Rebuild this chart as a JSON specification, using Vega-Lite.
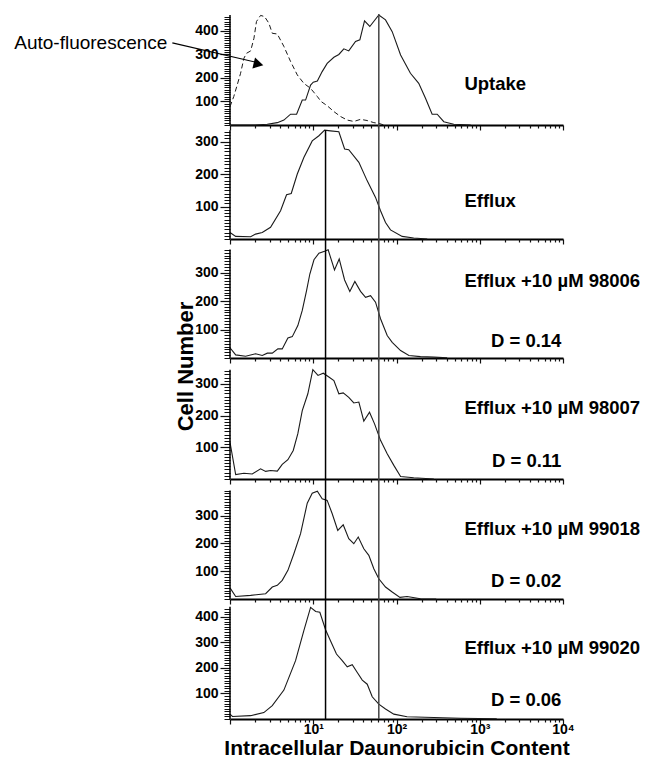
{
  "$schema": "https://vega.github.io/schema/vega-lite/v6.json",
  "padding": {"left": 14, "top": 12, "right": 2, "bottom": 2},
  "autosize": {"type": "pad"},
  "spacing": 0,
  "bounds": "flush",
  "config": {
    "view": {"stroke": null},
    "font": "Liberation Sans",
    "axis": {"labelFont": "Liberation Sans", "titleFont": "Liberation Sans", "labelColor": "#000", "titleColor": "#000", "grid": false, "tickColor": "#111", "domainColor": "#000", "ticks": true, "tickOpacity": 1},
    "text": {"font": "Liberation Sans"}
  },
  "datasets": {
    "p1_auto": [
      {"x": 1.0, "n": 78}, {"x": 1.11, "n": 121}, {"x": 1.22, "n": 170}, {"x": 1.34, "n": 220}, {"x": 1.47, "n": 284},
      {"x": 1.58, "n": 305}, {"x": 1.77, "n": 315}, {"x": 1.94, "n": 369}, {"x": 2.08, "n": 440}, {"x": 2.33, "n": 466},
      {"x": 2.6, "n": 461}, {"x": 2.93, "n": 433}, {"x": 3.22, "n": 390}, {"x": 3.7, "n": 387}, {"x": 4.44, "n": 334},
      {"x": 5.34, "n": 270}, {"x": 6.43, "n": 213}, {"x": 7.71, "n": 177}, {"x": 9.28, "n": 156}, {"x": 11.2, "n": 121},
      {"x": 12.4, "n": 100}, {"x": 14.7, "n": 82}, {"x": 17.7, "n": 57}, {"x": 21.3, "n": 36}, {"x": 25.6, "n": 21},
      {"x": 30.7, "n": 15}, {"x": 37, "n": 24}, {"x": 44.5, "n": 19}, {"x": 53.4, "n": 10}, {"x": 61.3, "n": 7}, {"x": 70.4, "n": 0}
    ],
    "p1_uptake": [
      {"x": 1, "n": 0}, {"x": 2.0, "n": 0}, {"x": 2.8, "n": 3}, {"x": 3.7, "n": 10}, {"x": 4.44, "n": 21},
      {"x": 5.34, "n": 46}, {"x": 6.31, "n": 46}, {"x": 7.38, "n": 106}, {"x": 8.09, "n": 106}, {"x": 9.29, "n": 170},
      {"x": 10.0, "n": 182}, {"x": 11.2, "n": 187}, {"x": 12.8, "n": 227}, {"x": 14.7, "n": 262}, {"x": 17.7, "n": 288},
      {"x": 20.3, "n": 300}, {"x": 23.3, "n": 324}, {"x": 26.7, "n": 315}, {"x": 32.2, "n": 355}, {"x": 36.3, "n": 362},
      {"x": 41.3, "n": 443}, {"x": 47.8, "n": 419}, {"x": 61.3, "n": 468}, {"x": 73.8, "n": 447}, {"x": 88.8, "n": 397},
      {"x": 112, "n": 298}, {"x": 147, "n": 220}, {"x": 185, "n": 177}, {"x": 223, "n": 114}, {"x": 268, "n": 46},
      {"x": 308, "n": 46}, {"x": 370, "n": 14}, {"x": 488, "n": 3}, {"x": 780, "n": 0}
    ],
    "p2": [
      {"x": 1.0, "n": 20}, {"x": 1.17, "n": 8}, {"x": 1.77, "n": 7}, {"x": 2.03, "n": 15}, {"x": 2.44, "n": 20},
      {"x": 3.07, "n": 36}, {"x": 4.05, "n": 87}, {"x": 4.78, "n": 136}, {"x": 5.44, "n": 140}, {"x": 6.43, "n": 200},
      {"x": 7.71, "n": 251}, {"x": 9.72, "n": 302}, {"x": 11.7, "n": 318}, {"x": 13.7, "n": 335}, {"x": 16.1, "n": 333},
      {"x": 20.3, "n": 330}, {"x": 23.8, "n": 277}, {"x": 26.7, "n": 275}, {"x": 35.3, "n": 236}, {"x": 44.5, "n": 179},
      {"x": 56, "n": 128}, {"x": 64.3, "n": 87}, {"x": 73.8, "n": 51}, {"x": 84.7, "n": 28}, {"x": 117, "n": 8},
      {"x": 161, "n": 3}, {"x": 234, "n": 0}
    ],
    "p3": [
      {"x": 1.0, "n": 36}, {"x": 1.17, "n": 11}, {"x": 1.54, "n": 6}, {"x": 2.03, "n": 15}, {"x": 2.44, "n": 9},
      {"x": 2.81, "n": 17}, {"x": 3.22, "n": 17}, {"x": 3.76, "n": 32}, {"x": 4.24, "n": 32}, {"x": 4.96, "n": 70},
      {"x": 5.6, "n": 75}, {"x": 6.53, "n": 114}, {"x": 7.38, "n": 167}, {"x": 8.31, "n": 237}, {"x": 9.1, "n": 295},
      {"x": 10.2, "n": 345}, {"x": 11.7, "n": 368}, {"x": 13.7, "n": 375}, {"x": 15.1, "n": 380}, {"x": 18.0, "n": 309},
      {"x": 20.5, "n": 348}, {"x": 23.8, "n": 274}, {"x": 27.5, "n": 234}, {"x": 31.6, "n": 269}, {"x": 37.0, "n": 234},
      {"x": 42.5, "n": 213}, {"x": 48.8, "n": 219}, {"x": 56, "n": 196}, {"x": 64.3, "n": 138}, {"x": 77.3, "n": 79},
      {"x": 88.8, "n": 55}, {"x": 112, "n": 26}, {"x": 141, "n": 9}, {"x": 194, "n": 5}, {"x": 281, "n": 3}, {"x": 406, "n": 1}
    ],
    "p4": [
      {"x": 1.0, "n": 116}, {"x": 1.17, "n": 14}, {"x": 1.47, "n": 18}, {"x": 1.85, "n": 16}, {"x": 2.33, "n": 32},
      {"x": 2.68, "n": 24}, {"x": 3.07, "n": 27}, {"x": 3.7, "n": 25}, {"x": 4.24, "n": 46}, {"x": 4.96, "n": 61},
      {"x": 5.75, "n": 90}, {"x": 6.53, "n": 143}, {"x": 7.38, "n": 216}, {"x": 8.61, "n": 269}, {"x": 9.89, "n": 345},
      {"x": 11.4, "n": 327}, {"x": 13.2, "n": 334}, {"x": 15.4, "n": 322}, {"x": 17.7, "n": 311}, {"x": 20.3, "n": 269},
      {"x": 22.9, "n": 272}, {"x": 26.7, "n": 258}, {"x": 30.7, "n": 240}, {"x": 35.3, "n": 243}, {"x": 40.5, "n": 183},
      {"x": 47.4, "n": 211}, {"x": 54.5, "n": 174}, {"x": 64.3, "n": 122}, {"x": 77.3, "n": 80}, {"x": 92.9, "n": 43},
      {"x": 112, "n": 8}, {"x": 161, "n": 4}, {"x": 281, "n": 0}
    ],
    "p5": [
      {"x": 1.0, "n": 40}, {"x": 1.17, "n": 9}, {"x": 1.77, "n": 13}, {"x": 2.68, "n": 19}, {"x": 3.22, "n": 43},
      {"x": 3.7, "n": 49}, {"x": 4.24, "n": 67}, {"x": 4.96, "n": 103}, {"x": 5.85, "n": 163}, {"x": 7.04, "n": 235},
      {"x": 8.47, "n": 345}, {"x": 9.72, "n": 381}, {"x": 11.2, "n": 388}, {"x": 12.8, "n": 361}, {"x": 14.7, "n": 355},
      {"x": 16.9, "n": 307}, {"x": 19.7, "n": 247}, {"x": 22.9, "n": 267}, {"x": 26.7, "n": 217}, {"x": 30.7, "n": 199},
      {"x": 34.7, "n": 223}, {"x": 40.5, "n": 181}, {"x": 46.5, "n": 157}, {"x": 53.4, "n": 109}, {"x": 61.3, "n": 73},
      {"x": 73.8, "n": 43}, {"x": 88.8, "n": 25}, {"x": 110, "n": 6}, {"x": 134, "n": 9}, {"x": 194, "n": 1}, {"x": 300, "n": 0}
    ],
    "p6": [
      {"x": 1.0, "n": 19}, {"x": 1.07, "n": 10}, {"x": 1.77, "n": 13}, {"x": 2.55, "n": 25}, {"x": 3.22, "n": 52},
      {"x": 4.44, "n": 113}, {"x": 6.13, "n": 228}, {"x": 7.71, "n": 345}, {"x": 9.29, "n": 436}, {"x": 10.7, "n": 420},
      {"x": 12.0, "n": 417}, {"x": 14.1, "n": 348}, {"x": 16.1, "n": 306}, {"x": 19.0, "n": 254}, {"x": 22.3, "n": 228},
      {"x": 25.6, "n": 204}, {"x": 29.4, "n": 212}, {"x": 33.8, "n": 182}, {"x": 38.8, "n": 152}, {"x": 44.5, "n": 136},
      {"x": 51.1, "n": 87}, {"x": 61.3, "n": 58}, {"x": 73.8, "n": 39}, {"x": 92.9, "n": 19}, {"x": 134, "n": 9},
      {"x": 281, "n": 6}, {"x": 587, "n": 3}, {"x": 1600, "n": 1}
    ],
    "one": [{"k": 1}]
  },
  "vconcat": [
    {
      "width": 333, "height": 111,
      "resolve": {"axis": {"x": "independent", "y": "independent"}},
      "layer": [
        {
          "data": {"name": "p1_uptake"},
          "mark": {"type": "line", "color": "#1a1a1a", "strokeWidth": 1.1},
          "encoding": {
            "x": {"field": "x", "type": "quantitative", "scale": {"type": "log", "domain": [1, 10000], "nice": false},
              "axis": {"orient": "bottom", "values": [1, 10, 100, 1000, 10000], "labels": false, "title": null, "domainWidth": 1.8, "tickWidth": 1.2, "tickSize": 5, "tickColor": "#111"}},
            "y": {"field": "n", "type": "quantitative", "scale": {"domain": [0, 472], "nice": false},
              "axis": {"orient": "left", "values": [100, 200, 300, 400], "domain": false, "title": null, "labelOverlap": false, "labelFontSize": 14, "labelFontWeight": "bold", "labelPadding": 2, "tickWidth": 1.2, "tickSize": 10, "tickColor": "#111"}}
          }
        },
        {
          "data": {"name": "one"},
          "mark": {"type": "rule", "color": "#000", "strokeWidth": 1.5},
          "encoding": {
            "x": {"datum": 1, "type": "quantitative",
              "axis": {"orient": "bottom", "values": [2,3,4,5,6,7,8,9,20,30,40,50,60,70,80,90,200,300,400,500,600,700,800,900,2000,3000,4000,5000,6000,7000,8000,9000], "labels": false, "domain": false, "title": null, "tickSize": 3, "tickWidth": 1.2, "tickColor": "#111"}},
            "y": {"datum": 0, "type": "quantitative",
              "axis": {"orient": "left", "values": [0,10,20,30,40,50,60,70,80,90,110,120,130,140,150,160,170,180,190,210,220,230,240,250,260,270,280,290,310,320,330,340,350,360,370,380,390,410,420,430,440,450,460], "labels": false, "domain": false, "title": null, "tickSize": 6, "tickWidth": 1, "tickColor": "#111"}},
            "y2": {"datum": 468}}
        },
        {
          "data": {"name": "p1_auto"},
          "mark": {"type": "line", "color": "#1a1a1a", "strokeWidth": 1, "strokeDash": [5, 3]},
          "encoding": {"x": {"field": "x", "type": "quantitative", "axis": null}, "y": {"field": "n", "type": "quantitative", "axis": null}}
        },
        {
          "data": {"name": "one"},
          "mark": {"type": "rule", "color": "#444", "strokeWidth": 1.5},
          "encoding": {"x": {"datum": 61.3, "type": "quantitative", "axis": null}}
        },
        {
          "data": {"name": "one"},
          "mark": {"type": "rule", "color": "#000", "strokeWidth": 1.2},
          "encoding": {"x": {"datum": 0.203, "type": "quantitative", "axis": null}, "y": {"datum": 349, "type": "quantitative", "axis": null}, "x2": {"datum": 2.1}, "y2": {"datum": 266}}
        },
        {
          "data": {"name": "one"},
          "mark": {"type": "point", "shape": "triangle-right", "filled": true, "color": "#000", "size": 130, "angle": 13.6, "opacity": 1},
          "encoding": {"x": {"datum": 2.2, "type": "quantitative", "axis": null}, "y": {"datum": 259, "type": "quantitative", "axis": null}}
        },
        {
          "data": {"values": [{"label": "Auto-fluorescence"}]},
          "mark": {"type": "text", "align": "right", "baseline": "alphabetic", "fontSize": 19, "color": "#000"},
          "encoding": {"x": {"datum": 0.177, "type": "quantitative", "axis": null}, "y": {"datum": 325, "type": "quantitative", "axis": null}, "text": {"field": "label"}}
        },
        {
          "data": {"values": [{"label": "Uptake"}]},
          "mark": {"type": "text", "align": "left", "baseline": "alphabetic", "fontSize": 18.5, "fontWeight": "bold", "color": "#000"},
          "encoding": {"x": {"datum": 655, "type": "quantitative", "axis": null}, "y": {"datum": 150, "type": "quantitative", "axis": null}, "text": {"field": "label"}}
        }
      ]
    },
    {
      "width": 333, "height": 114,
      "resolve": {"axis": {"x": "independent", "y": "independent"}},
      "layer": [
        {
          "data": {"name": "p2"},
          "mark": {"type": "line", "color": "#1a1a1a", "strokeWidth": 1.1},
          "encoding": {
            "x": {"field": "x", "type": "quantitative", "scale": {"type": "log", "domain": [1, 10000], "nice": false},
              "axis": {"orient": "bottom", "values": [1, 10, 100, 1000, 10000], "labels": false, "title": null, "domainWidth": 1.8, "tickWidth": 1.2, "tickSize": 5, "tickColor": "#111"}},
            "y": {"field": "n", "type": "quantitative", "scale": {"domain": [0, 351], "nice": false},
              "axis": {"orient": "left", "values": [100, 200, 300], "domain": false, "title": null, "labelOverlap": false, "labelFontSize": 14, "labelFontWeight": "bold", "labelPadding": 2, "tickWidth": 1.2, "tickSize": 10, "tickColor": "#111"}}
          }
        },
        {
          "data": {"name": "one"},
          "mark": {"type": "rule", "color": "#000", "strokeWidth": 1.5},
          "encoding": {
            "x": {"datum": 1, "type": "quantitative",
              "axis": {"orient": "bottom", "values": [2,3,4,5,6,7,8,9,20,30,40,50,60,70,80,90,200,300,400,500,600,700,800,900,2000,3000,4000,5000,6000,7000,8000,9000], "labels": false, "domain": false, "title": null, "tickSize": 3, "tickWidth": 1.2, "tickColor": "#111"}},
            "y": {"datum": 0, "type": "quantitative",
              "axis": {"orient": "left", "values": [0,10,20,30,40,50,60,70,80,90,110,120,130,140,150,160,170,180,190,210,220,230,240,250,260,270,280,290,310,320,330], "labels": false, "domain": false, "title": null, "tickSize": 6, "tickWidth": 1, "tickColor": "#111"}},
            "y2": {"datum": 335}}
        },
        {
          "data": {"name": "one"},
          "mark": {"type": "rule", "color": "#000", "strokeWidth": 1.5},
          "encoding": {"x": {"datum": 14.05, "type": "quantitative", "axis": null}, "y": {"datum": 0, "type": "quantitative", "axis": null}, "y2": {"datum": 335}}
        },
        {
          "data": {"name": "one"},
          "mark": {"type": "rule", "color": "#444", "strokeWidth": 1.5},
          "encoding": {"x": {"datum": 61.3, "type": "quantitative", "axis": null}}
        },
        {
          "data": {"values": [{"label": "Efflux"}]},
          "mark": {"type": "text", "align": "left", "baseline": "alphabetic", "fontSize": 18.5, "fontWeight": "bold", "color": "#000"},
          "encoding": {"x": {"datum": 655, "type": "quantitative", "axis": null}, "y": {"datum": 97, "type": "quantitative", "axis": null}, "text": {"field": "label"}}
        }
      ]
    },
    {
      "width": 333, "height": 119,
      "resolve": {"axis": {"x": "independent", "y": "independent"}},
      "layer": [
        {
          "data": {"name": "p3"},
          "mark": {"type": "line", "color": "#1a1a1a", "strokeWidth": 1.1},
          "encoding": {
            "x": {"field": "x", "type": "quantitative", "scale": {"type": "log", "domain": [1, 10000], "nice": false},
              "axis": {"orient": "bottom", "values": [1, 10, 100, 1000, 10000], "labels": false, "title": null, "domainWidth": 1.8, "tickWidth": 1.2, "tickSize": 5, "tickColor": "#111"}},
            "y": {"field": "n", "type": "quantitative", "scale": {"domain": [0, 418], "nice": false},
              "axis": {"orient": "left", "values": [100, 200, 300], "domain": false, "title": null, "labelOverlap": false, "labelFontSize": 14, "labelFontWeight": "bold", "labelPadding": 2, "tickWidth": 1.2, "tickSize": 10, "tickColor": "#111"}}
          }
        },
        {
          "data": {"name": "one"},
          "mark": {"type": "rule", "color": "#000", "strokeWidth": 1.5},
          "encoding": {
            "x": {"datum": 1, "type": "quantitative",
              "axis": {"orient": "bottom", "values": [2,3,4,5,6,7,8,9,20,30,40,50,60,70,80,90,200,300,400,500,600,700,800,900,2000,3000,4000,5000,6000,7000,8000,9000], "labels": false, "domain": false, "title": null, "tickSize": 3, "tickWidth": 1.2, "tickColor": "#111"}},
            "y": {"datum": 0, "type": "quantitative",
              "axis": {"orient": "left", "values": [0,10,20,30,40,50,60,70,80,90,110,120,130,140,150,160,170,180,190,210,220,230,240,250,260,270,280,290,310,320,330,340,350,360,370,380], "labels": false, "domain": false, "title": null, "tickSize": 6, "tickWidth": 1, "tickColor": "#111"}},
            "y2": {"datum": 381}}
        },
        {
          "data": {"name": "one"},
          "mark": {"type": "rule", "color": "#000", "strokeWidth": 1.5},
          "encoding": {"x": {"datum": 14.05, "type": "quantitative", "axis": null}}
        },
        {
          "data": {"name": "one"},
          "mark": {"type": "rule", "color": "#444", "strokeWidth": 1.5},
          "encoding": {"x": {"datum": 61.3, "type": "quantitative", "axis": null}}
        },
        {
          "data": {"values": [{"label": "Efflux +10 µM 98006"}]},
          "mark": {"type": "text", "align": "left", "baseline": "alphabetic", "fontSize": 18.5, "fontWeight": "bold", "color": "#000"},
          "encoding": {"x": {"datum": 655, "type": "quantitative", "axis": null}, "y": {"datum": 248, "type": "quantitative", "axis": null}, "text": {"field": "label"}}
        },
        {
          "data": {"values": [{"label": "D = 0.14"}]},
          "mark": {"type": "text", "align": "right", "baseline": "alphabetic", "fontSize": 18.5, "fontWeight": "bold", "color": "#000"},
          "encoding": {"x": {"datum": 9570, "type": "quantitative", "axis": null}, "y": {"datum": 38, "type": "quantitative", "axis": null}, "text": {"field": "label"}}
        }
      ]
    },
    {
      "width": 333, "height": 121,
      "resolve": {"axis": {"x": "independent", "y": "independent"}},
      "layer": [
        {
          "data": {"name": "p4"},
          "mark": {"type": "line", "color": "#1a1a1a", "strokeWidth": 1.1},
          "encoding": {
            "x": {"field": "x", "type": "quantitative", "scale": {"type": "log", "domain": [1, 10000], "nice": false},
              "axis": {"orient": "bottom", "values": [1, 10, 100, 1000, 10000], "labels": false, "title": null, "domainWidth": 1.8, "tickWidth": 1.2, "tickSize": 5, "tickColor": "#111"}},
            "y": {"field": "n", "type": "quantitative", "scale": {"domain": [0, 382], "nice": false},
              "axis": {"orient": "left", "values": [100, 200, 300], "domain": false,
                "title": "Cell Number", "titleFontSize": 22, "titleFontWeight": "bold", "titleX": -38, "titleY": 8, "titleAngle": 270, "titleAlign": "center", "titleBaseline": "alphabetic",
                "labelOverlap": false, "labelFontSize": 14, "labelFontWeight": "bold", "labelPadding": 2, "tickWidth": 1.2, "tickSize": 10, "tickColor": "#111"}}
          }
        },
        {
          "data": {"name": "one"},
          "mark": {"type": "rule", "color": "#000", "strokeWidth": 1.5},
          "encoding": {
            "x": {"datum": 1, "type": "quantitative",
              "axis": {"orient": "bottom", "values": [2,3,4,5,6,7,8,9,20,30,40,50,60,70,80,90,200,300,400,500,600,700,800,900,2000,3000,4000,5000,6000,7000,8000,9000], "labels": false, "domain": false, "title": null, "tickSize": 3, "tickWidth": 1.2, "tickColor": "#111"}},
            "y": {"datum": 0, "type": "quantitative",
              "axis": {"orient": "left", "values": [0,10,20,30,40,50,60,70,80,90,110,120,130,140,150,160,170,180,190,210,220,230,240,250,260,270,280,290,310,320,330,340], "labels": false, "domain": false, "title": null, "tickSize": 6, "tickWidth": 1, "tickColor": "#111"}},
            "y2": {"datum": 345}}
        },
        {
          "data": {"name": "one"},
          "mark": {"type": "rule", "color": "#000", "strokeWidth": 1.5},
          "encoding": {"x": {"datum": 14.05, "type": "quantitative", "axis": null}}
        },
        {
          "data": {"name": "one"},
          "mark": {"type": "rule", "color": "#444", "strokeWidth": 1.5},
          "encoding": {"x": {"datum": 61.3, "type": "quantitative", "axis": null}}
        },
        {
          "data": {"values": [{"label": "Efflux +10 µM 98007"}]},
          "mark": {"type": "text", "align": "left", "baseline": "alphabetic", "fontSize": 18.5, "fontWeight": "bold", "color": "#000"},
          "encoding": {"x": {"datum": 655, "type": "quantitative", "axis": null}, "y": {"datum": 204, "type": "quantitative", "axis": null}, "text": {"field": "label"}}
        },
        {
          "data": {"values": [{"label": "D = 0.11"}]},
          "mark": {"type": "text", "align": "right", "baseline": "alphabetic", "fontSize": 18.5, "fontWeight": "bold", "color": "#000"},
          "encoding": {"x": {"datum": 9570, "type": "quantitative", "axis": null}, "y": {"datum": 37, "type": "quantitative", "axis": null}, "text": {"field": "label"}}
        }
      ]
    },
    {
      "width": 333, "height": 120,
      "resolve": {"axis": {"x": "independent", "y": "independent"}},
      "layer": [
        {
          "data": {"name": "p5"},
          "mark": {"type": "line", "color": "#1a1a1a", "strokeWidth": 1.1},
          "encoding": {
            "x": {"field": "x", "type": "quantitative", "scale": {"type": "log", "domain": [1, 10000], "nice": false},
              "axis": {"orient": "bottom", "values": [1, 10, 100, 1000, 10000], "labels": false, "title": null, "domainWidth": 1.8, "tickWidth": 1.2, "tickSize": 5, "tickColor": "#111"}},
            "y": {"field": "n", "type": "quantitative", "scale": {"domain": [0, 432], "nice": false},
              "axis": {"orient": "left", "values": [100, 200, 300], "domain": false, "title": null, "labelOverlap": false, "labelFontSize": 14, "labelFontWeight": "bold", "labelPadding": 2, "tickWidth": 1.2, "tickSize": 10, "tickColor": "#111"}}
          }
        },
        {
          "data": {"name": "one"},
          "mark": {"type": "rule", "color": "#000", "strokeWidth": 1.5},
          "encoding": {
            "x": {"datum": 1, "type": "quantitative",
              "axis": {"orient": "bottom", "values": [2,3,4,5,6,7,8,9,20,30,40,50,60,70,80,90,200,300,400,500,600,700,800,900,2000,3000,4000,5000,6000,7000,8000,9000], "labels": false, "domain": false, "title": null, "tickSize": 3, "tickWidth": 1.2, "tickColor": "#111"}},
            "y": {"datum": 0, "type": "quantitative",
              "axis": {"orient": "left", "values": [0,10,20,30,40,50,60,70,80,90,110,120,130,140,150,160,170,180,190,210,220,230,240,250,260,270,280,290,310,320,330,340,350,360,370,380,390], "labels": false, "domain": false, "title": null, "tickSize": 6, "tickWidth": 1, "tickColor": "#111"}},
            "y2": {"datum": 391}}
        },
        {
          "data": {"name": "one"},
          "mark": {"type": "rule", "color": "#000", "strokeWidth": 1.5},
          "encoding": {"x": {"datum": 14.05, "type": "quantitative", "axis": null}}
        },
        {
          "data": {"name": "one"},
          "mark": {"type": "rule", "color": "#444", "strokeWidth": 1.5},
          "encoding": {"x": {"datum": 61.3, "type": "quantitative", "axis": null}}
        },
        {
          "data": {"values": [{"label": "Efflux +10 µM 99018"}]},
          "mark": {"type": "text", "align": "left", "baseline": "alphabetic", "fontSize": 18.5, "fontWeight": "bold", "color": "#000"},
          "encoding": {"x": {"datum": 655, "type": "quantitative", "axis": null}, "y": {"datum": 232, "type": "quantitative", "axis": null}, "text": {"field": "label"}}
        },
        {
          "data": {"values": [{"label": "D = 0.02"}]},
          "mark": {"type": "text", "align": "right", "baseline": "alphabetic", "fontSize": 18.5, "fontWeight": "bold", "color": "#000"},
          "encoding": {"x": {"datum": 9570, "type": "quantitative", "axis": null}, "y": {"datum": 42, "type": "quantitative", "axis": null}, "text": {"field": "label"}}
        }
      ]
    },
    {
      "width": 333, "height": 120,
      "resolve": {"axis": {"x": "independent", "y": "independent"}},
      "layer": [
        {
          "data": {"name": "p6"},
          "mark": {"type": "line", "color": "#1a1a1a", "strokeWidth": 1.1},
          "encoding": {
            "x": {"field": "x", "type": "quantitative", "scale": {"type": "log", "domain": [1, 10000], "nice": false},
              "axis": {"orient": "bottom", "values": [1, 10, 100, 1000, 10000],
                "labelExpr": "datum.value == 10 ? '10¹' : datum.value == 100 ? '10²' : datum.value == 1000 ? '10³' : datum.value == 10000 ? '10⁴' : ''",
                "labelOverlap": false, "labelFlush": false, "labelFontSize": 14, "labelFontWeight": "bold", "labelBaseline": "alphabetic", "labelPadding": 9,
                "title": "Intracellular Daunorubicin Content", "titleFontSize": 21, "titleFontWeight": "bold", "titleBaseline": "alphabetic", "titleY": 35,
                "domainWidth": 1.8, "tickWidth": 1.2, "tickSize": 5, "tickColor": "#111"}},
            "y": {"field": "n", "type": "quantitative", "scale": {"domain": [0, 469], "nice": false},
              "axis": {"orient": "left", "values": [100, 200, 300, 400], "domain": false, "title": null, "labelOverlap": false, "labelFontSize": 14, "labelFontWeight": "bold", "labelPadding": 2, "tickWidth": 1.2, "tickSize": 10, "tickColor": "#111"}}
          }
        },
        {
          "data": {"name": "one"},
          "mark": {"type": "rule", "color": "#000", "strokeWidth": 1.5},
          "encoding": {
            "x": {"datum": 1, "type": "quantitative",
              "axis": {"orient": "bottom", "values": [2,3,4,5,6,7,8,9,20,30,40,50,60,70,80,90,200,300,400,500,600,700,800,900,2000,3000,4000,5000,6000,7000,8000,9000], "labels": false, "domain": false, "title": null, "tickSize": 3, "tickWidth": 1.2, "tickColor": "#111"}},
            "y": {"datum": 0, "type": "quantitative",
              "axis": {"orient": "left", "values": [0,10,20,30,40,50,60,70,80,90,110,120,130,140,150,160,170,180,190,210,220,230,240,250,260,270,280,290,310,320,330,340,350,360,370,380,390,410,420,430], "labels": false, "domain": false, "title": null, "tickSize": 6, "tickWidth": 1, "tickColor": "#111"}},
            "y2": {"datum": 439}}
        },
        {
          "data": {"name": "one"},
          "mark": {"type": "rule", "color": "#000", "strokeWidth": 1.5},
          "encoding": {"x": {"datum": 14.05, "type": "quantitative", "axis": null}}
        },
        {
          "data": {"name": "one"},
          "mark": {"type": "rule", "color": "#444", "strokeWidth": 1.5},
          "encoding": {"x": {"datum": 61.3, "type": "quantitative", "axis": null}}
        },
        {
          "data": {"values": [{"label": "Efflux +10 µM 99020"}]},
          "mark": {"type": "text", "align": "left", "baseline": "alphabetic", "fontSize": 18.5, "fontWeight": "bold", "color": "#000"},
          "encoding": {"x": {"datum": 655, "type": "quantitative", "axis": null}, "y": {"datum": 255, "type": "quantitative", "axis": null}, "text": {"field": "label"}}
        },
        {
          "data": {"values": [{"label": "D = 0.06"}]},
          "mark": {"type": "text", "align": "right", "baseline": "alphabetic", "fontSize": 18.5, "fontWeight": "bold", "color": "#000"},
          "encoding": {"x": {"datum": 9570, "type": "quantitative", "axis": null}, "y": {"datum": 52, "type": "quantitative", "axis": null}, "text": {"field": "label"}}
        }
      ]
    }
  ]
}
